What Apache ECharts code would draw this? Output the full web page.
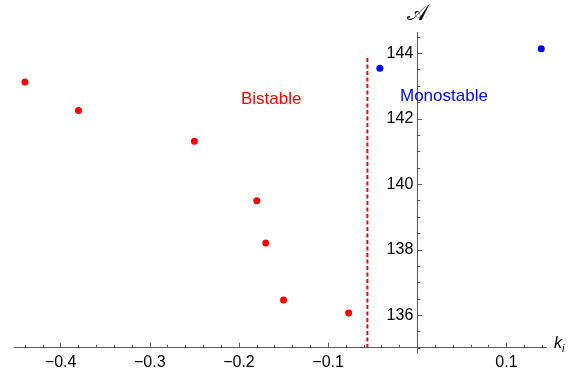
<!DOCTYPE html>
<html>
<head>
<meta charset="utf-8">
<script src="https://cdn.jsdelivr.net/npm/echarts@6/dist/echarts.min.js"></script>
<style>
  html, body { margin: 0; padding: 0; background: #fff; }
  #chart { width: 573px; height: 369px; }
</style>
</head>
<body>
<div id="chart"></div>
<script>
// Bistable branch: coupling k_i vs. A
const bistableK = [-0.44, -0.38, -0.25, -0.18, -0.17, -0.15, -0.077];
const bistableA = [143.12, 142.25, 141.31, 139.50, 138.21, 136.47, 136.07];

// Monostable branch
const monostableK = [-0.042, 0.139];
const monostableA = [143.54, 144.14];

// Boundary between the two regimes (dashed vertical line)
const boundaryK = -0.056;
const boundaryA = [135, 143.86];

// Axis ranges and tick values
const xRange = [-0.4523, 0.1451];
const yRange = [134.84, 144.64];
const xLabelTicks = [-0.4, -0.3, -0.2, -0.1, 0.1];
const xMajorTicks = [-0.4, -0.3, -0.2, -0.1, 0, 0.1];
const yLabelTicks = [136, 138, 140, 142, 144];

const xMinorTicks = [];
for (let i = -22; i <= 7; i++) xMinorTicks.push(+(i * 0.02).toFixed(2));
const yMinorTicks = [];
for (let i = 270; i <= 289; i++) yMinorTicks.push(i / 2);

const axisColor = '#5a5a5a';
const font = "'Liberation Sans', Arial, sans-serif";

const W = 573;
const gridBox = { left: 14, right: 26.3, top: 32.3, bottom: 15.7 };
// the vertical axis sits where k_i = 0
const gridW = W - gridBox.left - gridBox.right;
const yAxisShift = -(0 - xRange[0]) / (xRange[1] - xRange[0]) * gridW;

const pairs = (xs, ys) => xs.map((x, i) => [x, ys[i]]);
const fmtX = v => (v < 0 ? '\u2212' : '') + Math.abs(v).toFixed(1);

const chart = echarts.init(document.getElementById('chart'), null, { renderer: 'canvas' });

const baseX = {
  type: 'value', min: xRange[0], max: xRange[1], position: 'bottom', offset: -5.6,
  splitLine: { show: false }
};
const baseY = {
  type: 'value', min: yRange[0], max: yRange[1], position: 'left', offset: yAxisShift,
  splitLine: { show: false }
};

chart.setOption({
  animation: false,
  backgroundColor: '#fff',
  grid: Object.assign({ containLabel: false, outerBoundsMode: 'none' }, gridBox),
  xAxis: [
    Object.assign({}, baseX, {
      axisLine: { onZero: false, lineStyle: { color: axisColor, width: 1 } },
      axisTick: { customValues: xMajorTicks, inside: true, length: 5, lineStyle: { color: axisColor } },
      axisLabel: { customValues: xLabelTicks, formatter: fmtX, fontFamily: font, fontSize: 16, color: '#000', margin: 7 }
    }),
    Object.assign({}, baseX, {
      axisLine: { show: false, onZero: false },
      axisTick: { customValues: xMinorTicks, inside: true, length: 3, lineStyle: { color: axisColor } },
      axisLabel: { show: false }
    })
  ],
  yAxis: [
    Object.assign({}, baseY, {
      axisLine: { onZero: false, lineStyle: { color: axisColor, width: 1 } },
      axisTick: { customValues: yLabelTicks, inside: true, length: 5, lineStyle: { color: axisColor } },
      axisLabel: { customValues: yLabelTicks, fontFamily: font, fontSize: 16, color: '#000', margin: 4 }
    }),
    Object.assign({}, baseY, {
      axisLine: { show: false, onZero: false },
      axisTick: { customValues: yMinorTicks, inside: true, length: 3, lineStyle: { color: axisColor } },
      axisLabel: { show: false }
    })
  ],
  series: [
    {
      name: 'boundary', type: 'line', xAxisIndex: 0, yAxisIndex: 0,
      data: boundaryA.map(a => [boundaryK, a]),
      symbol: 'none',
      lineStyle: { color: '#ff0000', width: 2, type: [4, 2.5] },
      z: 1
    },
    {
      name: 'Bistable', type: 'scatter', xAxisIndex: 0, yAxisIndex: 0,
      data: pairs(bistableK, bistableA), symbolSize: 7,
      itemStyle: { color: '#ff0000', opacity: 1 }, z: 3
    },
    {
      name: 'Monostable', type: 'scatter', xAxisIndex: 0, yAxisIndex: 0,
      data: pairs(monostableK, monostableA), symbolSize: 7,
      itemStyle: { color: '#0000ff', opacity: 1 }, z: 3
    }
  ],
  graphic: [
    { type: 'text', left: 241, top: 91, z: 10,
      style: { text: 'Bistable', fill: '#ff0000', font: '17px ' + font } },
    { type: 'text', left: 400, top: 88, z: 10,
      style: { text: 'Monostable', fill: '#0000ff', font: '17px ' + font } },
    { type: 'text', left: 407, top: 3, z: 10,
      style: { text: '\uD835\uDC9C', fill: '#000', font: '22px "DejaVu Sans", serif' } },
    { type: 'text', left: 554, top: 336, z: 10,
      style: {
        text: '{k|k}{i|i}', fill: '#000',
        rich: {
          k: { fontFamily: font, fontStyle: 'italic', fontSize: 16 },
          i: { fontFamily: font, fontStyle: 'italic', fontSize: 11, padding: [10, 0, 0, 0] }
        }
      } }
  ]
});
</script>
</body>
</html>
